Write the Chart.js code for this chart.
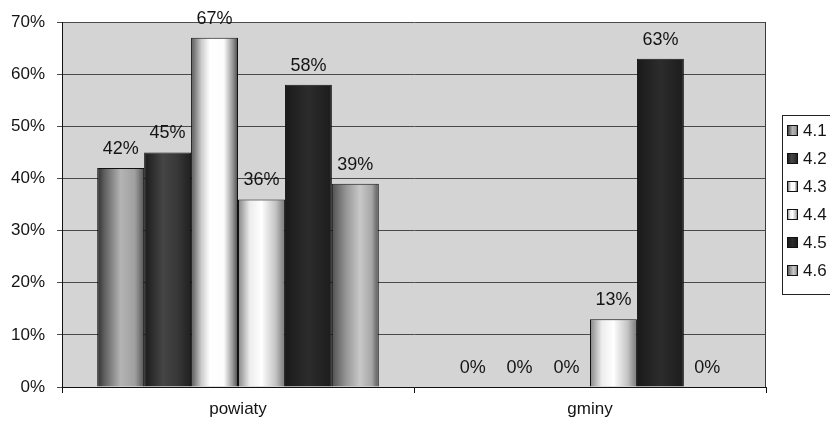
<!DOCTYPE html>
<html>
<head>
<meta charset="utf-8">
<script src="https://cdn.jsdelivr.net/npm/chart.js@4/dist/chart.umd.min.js"></script>
<style>
  html, body { margin: 0; padding: 0; background: #fff; }
  #wrap { width: 830px; height: 425px; position: relative; }
</style>
</head>
<body>
<div id="wrap"><canvas id="c" width="830" height="425"></canvas></div>
<script>
// Categories and series values (percent)
const categories = ['powiaty', 'gminy'];
const seriesNames = ['4.1', '4.2', '4.3', '4.4', '4.5', '4.6'];
const s41 = [42, 0];
const s42 = [45, 0];
const s43 = [67, 0];
const s44 = [36, 13];
const s45 = [58, 63];
const s46 = [39, 0];
const yTicks = [0, 10, 20, 30, 40, 50, 60, 70];

// Horizontal shading of each series (cylinder-like grey fills)
const shades = [
  [[0, '#2e2e2e'], [0.15, '#5e5e5e'], [0.5, '#b4b4b4'], [0.8, '#a0a0a0'], [1, '#555555']],
  [[0, '#1a1a1a'], [0.4, '#454545'], [0.7, '#383838'], [1, '#202020']],
  [[0, '#555555'], [0.22, '#cbcbcb'], [0.4, '#ffffff'], [0.7, '#fcfcfc'], [0.88, '#9c9c9c'], [1, '#4a4a4a']],
  [[0, '#858585'], [0.25, '#ececec'], [0.5, '#ffffff'], [0.8, '#c4c4c4'], [1, '#767676']],
  [[0, '#1a1a1a'], [0.5, '#2c2c2c'], [1, '#1c1c1c']],
  [[0, '#505050'], [0.3, '#959595'], [0.6, '#c8c8c8'], [0.85, '#a6a6a6'], [1, '#555555']]
];

const seriesValues = [s41, s42, s43, s44, s45, s46];
const FONT = "'Liberation Sans', Arial, sans-serif";
const TEXT = '#141414';

function fillFor(ctx, i, x0, x1) {
  const g = ctx.createLinearGradient(x0, 0, x1, 0);
  shades[i].forEach(([o, c]) => g.addColorStop(o, c));
  return g;
}

// Plot background and right frame line
const framePlugin = {
  id: 'frame',
  beforeDraw(chart) {
    const { ctx, chartArea: a } = chart;
    ctx.save();
    ctx.fillStyle = '#d4d4d4';
    ctx.fillRect(a.left, a.top, a.right - a.left, a.bottom - a.top);
    ctx.restore();
  },
  beforeDatasetsDraw(chart) {
    const { ctx, chartArea: a } = chart;
    ctx.save();
    ctx.strokeStyle = '#3a3a3a';
    ctx.lineWidth = 1;
    ctx.beginPath();
    ctx.moveTo(Math.round(a.right) - 0.5, a.top);
    ctx.lineTo(Math.round(a.right) - 0.5, a.bottom);
    ctx.stroke();
    ctx.restore();
  }
};

// Gradient fills computed from each bar's own geometry
const shadePlugin = {
  id: 'shade',
  beforeDatasetsDraw(chart) {
    const ctx = chart.ctx;
    chart.data.datasets.forEach((ds, i) => {
      chart.getDatasetMeta(i).data.forEach(el => {
        const { x, width } = el.getProps(['x', 'width'], true);
        el.options = Object.assign({}, el.options, {
          backgroundColor: fillFor(ctx, i, x - width / 2, x + width / 2)
        });
      });
    });
  }
};

// Value labels above each bar
const valueLabels = {
  id: 'valueLabels',
  afterDatasetsDraw(chart) {
    const ctx = chart.ctx;
    ctx.save();
    ctx.font = '18px ' + FONT;
    ctx.fillStyle = TEXT;
    ctx.textAlign = 'center';
    ctx.textBaseline = 'middle';
    chart.data.datasets.forEach((ds, i) => {
      chart.getDatasetMeta(i).data.forEach((el, j) => {
        const { x, y } = el.getProps(['x', 'y'], true);
        ctx.fillText(ds.data[j] + '%', x, y - 19);
      });
    });
    ctx.restore();
  }
};

// Boxed legend on the right
const boxLegend = {
  id: 'boxLegend',
  afterDraw(chart) {
    const ctx = chart.ctx;
    const left = 782.5, top = 115.5, w = 60, h = 179;
    ctx.save();
    ctx.fillStyle = '#ffffff';
    ctx.fillRect(left, top, w, h);
    ctx.strokeStyle = '#222';
    ctx.lineWidth = 1;
    ctx.strokeRect(left, top, w, h);
    ctx.font = '17px ' + FONT;
    ctx.textAlign = 'left';
    ctx.textBaseline = 'middle';
    seriesNames.forEach((name, i) => {
      const cy = 130 + i * 28;
      const sx = 787.5, sy = Math.round(cy - 5) + 0.5;
      ctx.fillStyle = fillFor(ctx, i, sx, sx + 10);
      ctx.fillRect(sx, sy, 10, 10);
      ctx.strokeStyle = '#111';
      ctx.strokeRect(sx, sy, 10, 10);
      ctx.fillStyle = TEXT;
      ctx.fillText(name, 803, cy + 1);
    });
    ctx.restore();
  }
};

const datasets = seriesNames.map((name, i) => ({
  label: name,
  data: seriesValues[i],
  backgroundColor: '#999',
  borderColor: '#111',
  borderWidth: 1,
  borderSkipped: 'start',
  categoryPercentage: 0.8,
  barPercentage: 1.0
}));

new Chart(document.getElementById('c'), {
  type: 'bar',
  data: { labels: categories, datasets },
  options: {
    responsive: false,
    animation: false,
    devicePixelRatio: 1,
    events: [],
    layout: { padding: { top: 21, right: 64, left: 0, bottom: 0 } },
    plugins: { legend: { display: false }, tooltip: { enabled: false } },
    scales: {
      x: {
        offset: true,
        grid: { drawOnChartArea: false, drawTicks: true, tickLength: 6, color: '#111', offset: true },
        border: { display: true, color: '#111', width: 1 },
        ticks: { font: { family: FONT, size: 17 }, color: TEXT, padding: 6 },
        afterFit(scale) { scale.height = 38; }
      },
      y: {
        min: 0,
        max: 70,
        afterBuildTicks(scale) { scale.ticks = yTicks.map(v => ({ value: v })); },
        grid: { color: '#4a4a4a', lineWidth: 1, tickLength: 5, drawTicks: true },
        border: { display: true, color: '#111', width: 1 },
        ticks: {
          font: { family: FONT, size: 17 },
          color: TEXT,
          padding: 12,
          callback: v => v + '%'
        },
        afterFit(scale) { scale.width = 62; }
      }
    }
  },
  plugins: [framePlugin, shadePlugin, valueLabels, boxLegend]
});
</script>
</body>
</html>
